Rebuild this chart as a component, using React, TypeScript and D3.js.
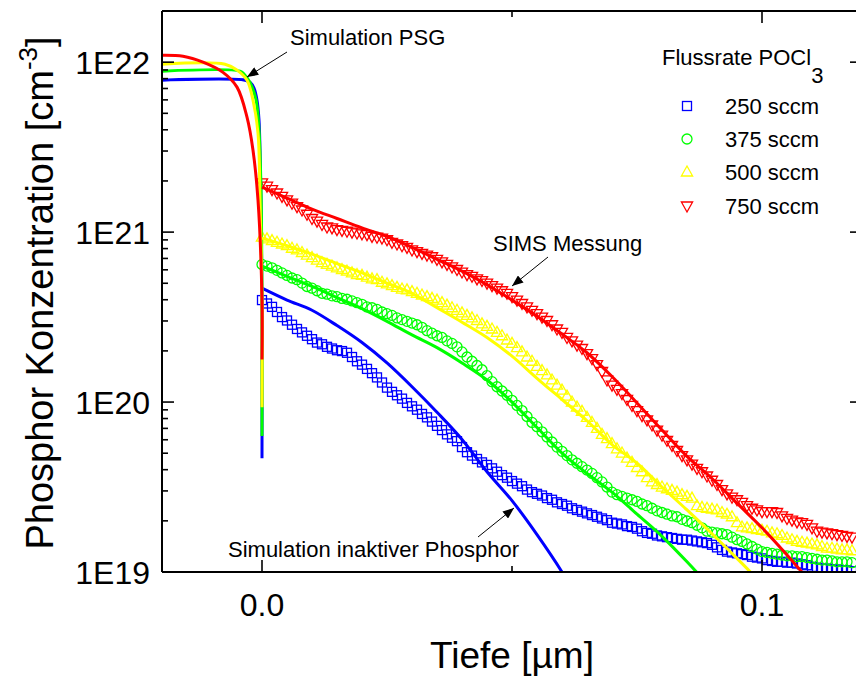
import React from 'react';
import * as d3 from 'd3';

const W = 856;
const H = 678;
const PLOT = { left: 162, top: 11, right: 862, bottom: 572 };

const depthDomain: [number, number] = [-0.02, 0.12];
const concDomain: [number, number] = [1e19, 2e22];

const xMajorTicks = [0.0, 0.1];
const xMajorLabels = ['0.0', '0.1'];
const xMinorTicks = [0.05];
const yMajorTicks = [1e19, 1e20, 1e21, 1e22];
const yMajorLabels = ['1E19', '1E20', '1E21', '1E22'];

const seriesNames = ['250 sccm', '375 sccm', '500 sccm', '750 sccm'];
const seriesColors = ['#0000ff', '#00ff00', '#ffff00', '#ff0000'];
const seriesMarkers = ['square', 'circle', 'triangleUp', 'triangleDown'];

// SIMS measurement: depth grid start/step (µm), values are log10(concentration / cm^-3)
const simsDepthStart = 0.0;
const simsDepthStep = 0.001;
const sims250 = [
  20.60, 20.58, 20.56, 20.53, 20.50, 20.48, 20.455, 20.43, 20.41, 20.39,
  20.37, 20.35, 20.34, 20.325, 20.315, 20.305, 20.30, 20.29, 20.265, 20.24,
  20.22, 20.195, 20.17, 20.145, 20.115, 20.085, 20.06, 20.04, 20.02, 19.995,
  19.975, 19.955, 19.93, 19.91, 19.885, 19.86, 19.835, 19.81, 19.79, 19.77,
  19.735, 19.705, 19.685, 19.665, 19.645, 19.63, 19.61, 19.59, 19.57, 19.555,
  19.535, 19.52, 19.505, 19.485, 19.47, 19.46, 19.45, 19.435, 19.425, 19.41,
  19.40, 19.39, 19.375, 19.365, 19.355, 19.345, 19.335, 19.325, 19.315, 19.305,
  19.29, 19.285, 19.28, 19.27, 19.265, 19.255, 19.24, 19.23, 19.225, 19.215,
  19.21, 19.205, 19.20, 19.195, 19.19, 19.19, 19.185, 19.18, 19.175, 19.17,
  19.16, 19.145, 19.13, 19.12, 19.115, 19.11, 19.105, 19.10, 19.09, 19.085,
  19.08, 19.07, 19.065, 19.06, 19.06, 19.055, 19.055, 19.05, 19.045, 19.04,
  19.03, 19.025, 19.02, 19.02, 19.015, 19.015, 19.01, 19.01, 19.005,
];
const sims375 = [
  20.81, 20.80, 20.79, 20.775, 20.76, 20.745, 20.73, 20.72, 20.70, 20.68,
  20.67, 20.655, 20.64, 20.635, 20.625, 20.62, 20.61, 20.605, 20.595, 20.585,
  20.575, 20.56, 20.555, 20.545, 20.53, 20.52, 20.51, 20.495, 20.485, 20.475,
  20.465, 20.455, 20.44, 20.42, 20.405, 20.39, 20.38, 20.36, 20.345, 20.325,
  20.295, 20.265, 20.24, 20.215, 20.19, 20.155, 20.12, 20.09, 20.065, 20.04,
  20.01, 19.98, 19.95, 19.915, 19.88, 19.855, 19.825, 19.795, 19.765, 19.735,
  19.71, 19.685, 19.66, 19.64, 19.62, 19.60, 19.58, 19.555, 19.53, 19.50,
  19.47, 19.455, 19.445, 19.435, 19.425, 19.415, 19.40, 19.39, 19.375, 19.36,
  19.35, 19.34, 19.33, 19.325, 19.31, 19.30, 19.29, 19.275, 19.26, 19.24,
  19.235, 19.23, 19.225, 19.22, 19.205, 19.19, 19.18, 19.165, 19.15, 19.135,
  19.12, 19.115, 19.11, 19.105, 19.10, 19.095, 19.095, 19.09, 19.09, 19.085,
  19.08, 19.075, 19.07, 19.07, 19.065, 19.06, 19.06, 19.06, 19.055,
];
const sims500 = [
  20.97, 20.96, 20.95, 20.94, 20.93, 20.92, 20.905, 20.895, 20.88, 20.865,
  20.85, 20.835, 20.82, 20.81, 20.80, 20.79, 20.78, 20.77, 20.76, 20.75,
  20.745, 20.735, 20.725, 20.72, 20.705, 20.695, 20.685, 20.675, 20.665, 20.66,
  20.65, 20.64, 20.63, 20.62, 20.61, 20.60, 20.585, 20.57, 20.555, 20.54,
  20.525, 20.51, 20.495, 20.48, 20.46, 20.445, 20.43, 20.41, 20.39, 20.365,
  20.345, 20.32, 20.295, 20.265, 20.24, 20.21, 20.185, 20.16, 20.13, 20.10,
  20.07, 20.035, 20.00, 19.97, 19.945, 19.91, 19.88, 19.845, 19.81, 19.785,
  19.755, 19.725, 19.70, 19.67, 19.645, 19.615, 19.59, 19.555, 19.53, 19.515,
  19.50, 19.49, 19.48, 19.47, 19.455, 19.445, 19.435, 19.39, 19.38, 19.375,
  19.37, 19.365, 19.35, 19.34, 19.325, 19.29, 19.265, 19.26, 19.255, 19.25,
  19.245, 19.24, 19.23, 19.225, 19.215, 19.20, 19.19, 19.18, 19.175, 19.17,
  19.165, 19.16, 19.15, 19.14, 19.14, 19.135, 19.13, 19.13, 19.125,
];
const sims750 = [
  21.29, 21.27, 21.25, 21.23, 21.21, 21.19, 21.17, 21.15, 21.13, 21.105,
  21.08, 21.065, 21.045, 21.03, 21.025, 21.015, 21.01, 21.005, 21.00, 20.995,
  20.99, 20.985, 20.975, 20.97, 20.965, 20.955, 20.94, 20.93, 20.92, 20.91,
  20.895, 20.885, 20.875, 20.865, 20.855, 20.84, 20.825, 20.81, 20.795, 20.78,
  20.765, 20.75, 20.74, 20.725, 20.715, 20.70, 20.685, 20.67, 20.655, 20.64,
  20.62, 20.60, 20.58, 20.56, 20.54, 20.52, 20.50, 20.48, 20.455, 20.43,
  20.41, 20.38, 20.36, 20.335, 20.315, 20.285, 20.255, 20.22, 20.18, 20.13,
  20.10, 20.075, 20.05, 20.015, 19.98, 19.95, 19.92, 19.895, 19.865, 19.835,
  19.805, 19.775, 19.745, 19.715, 19.685, 19.66, 19.635, 19.61, 19.59, 19.565,
  19.54, 19.515, 19.485, 19.46, 19.44, 19.425, 19.41, 19.39, 19.375, 19.365,
  19.355, 19.355, 19.355, 19.35, 19.33, 19.315, 19.305, 19.295, 19.29, 19.28,
  19.26, 19.24, 19.235, 19.23, 19.225, 19.22, 19.215, 19.21, 19.205,
];

// Simulation in PSG (depth < 0), log10 concentration
const psgDepth250 = [-0.02, -0.0034, -0.0024, -0.0016, -0.001, -0.0006, -0.0004, -0.0002, 0, 0];
const psgLog250 = [21.894, 21.894, 21.882, 21.847, 21.776, 21.659, 21.482, 21.188, 20.6, 19.67];
const psgDepth375 = [-0.02, -0.0044, -0.0036, -0.0024, -0.0012, -0.0006, -0.0002, 0, 0];
const psgLog375 = [21.947, 21.947, 21.93, 21.88, 21.78, 21.6, 21.25, 20.6, 19.8];
const psgDepth500 = [-0.02, -0.0074, -0.005, -0.003, -0.0018, -0.0008, -0.0004, 0, 0];
const psgLog500 = [21.988, 21.988, 21.953, 21.894, 21.776, 21.582, 21.188, 20.6, 19.97];
const psgDepth750 = [-0.02, -0.0158, -0.0118, -0.0078, -0.005, -0.003, -0.0018, -0.0008, 0, 0];
const psgLog750 = [22.041, 22.035, 22.0, 21.94, 21.853, 21.676, 21.482, 21.188, 20.6, 20.25];

// Simulation in silicon (depth >= 0), log10 concentration
const siDepths = [0, 0.005, 0.01, 0.015, 0.02, 0.025, 0.03, 0.035, 0.04, 0.045, 0.05, 0.055,
  0.06, 0.065, 0.07, 0.075, 0.08, 0.085, 0.09, 0.095, 0.1, 0.105, 0.11];
const siLog250 = [20.67, 20.60, 20.54, 20.45, 20.35, 20.23, 20.09, 19.94, 19.78, 19.59, 19.42, 19.22, 19.00, 18.75];
const siLog375 = [20.80, 20.74, 20.68, 20.615, 20.55, 20.475, 20.395, 20.32, 20.23, 20.13, 20.00, 19.85,
  19.70, 19.58, 19.47, 19.34, 19.21, 19.06, 18.90];
const siLog500 = [20.965, 20.92, 20.87, 20.815, 20.76, 20.70, 20.64, 20.555, 20.47, 20.38, 20.27, 20.14,
  20.015, 19.89, 19.75, 19.64, 19.50, 19.365, 19.225, 19.08, 18.93];
const siLog750 = [21.265, 21.20, 21.135, 21.08, 21.025, 20.975, 20.91, 20.84, 20.77, 20.69, 20.60, 20.505,
  20.40, 20.29, 20.15, 19.995, 19.835, 19.68, 19.55, 19.405, 19.26, 19.10, 18.93];

const simsAll = [sims250, sims375, sims500, sims750];
const psgDepthAll = [psgDepth250, psgDepth375, psgDepth500, psgDepth750];
const psgLogAll = [psgLog250, psgLog375, psgLog500, psgLog750];
const siLogAll = [siLog250, siLog375, siLog500, siLog750];

const FONT = 'Liberation Sans, Arial, sans-serif';

function Marker({ kind, x, y, color }: { kind: string; x: number; y: number; color: string }) {
  const common = { fill: 'none', stroke: color, strokeWidth: 1.3 };
  if (kind === 'square') return <rect x={x - 4.5} y={y - 4.5} width={9} height={9} {...common} />;
  if (kind === 'circle') return <circle cx={x} cy={y} r={5} {...common} />;
  if (kind === 'triangleUp')
    return <path d={`M${x},${y - 6}L${x + 5.6},${y + 4}L${x - 5.6},${y + 4}Z`} {...common} />;
  return <path d={`M${x},${y + 6}L${x + 5.6},${y - 4}L${x - 5.6},${y - 4}Z`} {...common} />;
}

export default function App() {
  const x = d3.scaleLinear().domain(depthDomain).range([PLOT.left, PLOT.right]);
  const y = d3.scaleLog().domain(concDomain).range([PLOT.bottom, PLOT.top]);
  const yAllTicks = y.ticks();
  const yMinor = yAllTicks.filter((t) => !yMajorTicks.some((m) => Math.abs(m - t) / t < 1e-6));

  const psgLine = d3
    .line<[number, number]>()
    .x((d) => x(d[0]))
    .y((d) => y(Math.pow(10, d[1])))
    .curve(d3.curveCatmullRom.alpha(0.5));
  const siLine = d3
    .line<[number, number]>()
    .x((d) => x(d[0]))
    .y((d) => y(Math.pow(10, d[1])))
    .curve(d3.curveMonotoneX);

  const legendX = 687;
  const legendRows = [106, 139, 172, 206];

  const arrow = (x1: number, y1: number, x2: number, y2: number) => (
    <line x1={x1} y1={y1} x2={x2} y2={y2} stroke="#000" strokeWidth={1} markerEnd="url(#arrowHead)" />
  );

  return (
    <svg
      width={W}
      height={H}
      style={{ position: 'absolute', left: 0, top: 0, background: '#fff' }}
      fontFamily={FONT}
    >
      <defs>
        <clipPath id="plotClip">
          <rect x={PLOT.left} y={PLOT.top} width={PLOT.right - PLOT.left} height={PLOT.bottom - PLOT.top} />
        </clipPath>
        <marker id="arrowHead" viewBox="0 0 10 8" refX="10" refY="4" markerWidth="12" markerHeight="9"
          markerUnits="userSpaceOnUse" orient="auto">
          <path d="M0,0L10,4L0,8Z" fill="#000" />
        </marker>
      </defs>
      <rect x={0} y={0} width={W} height={H} fill="#fff" />

      <g clipPath="url(#plotClip)">
        {/* SIMS markers */}
        {simsAll.map((vals, si) => (
          <g key={'s' + si}>
            {vals.map((v, i) => (
              <Marker key={i} kind={seriesMarkers[si]} x={x(simsDepthStart + i * simsDepthStep)}
                y={y(Math.pow(10, v))} color={seriesColors[si]} />
            ))}
          </g>
        ))}
        {/* Simulation lines */}
        {psgLogAll.map((vals, si) => {
          const psgPts = vals.map((v, i) => [psgDepthAll[si][i], v] as [number, number]);
          const siPts = siLogAll[si].map((v, i) => [siDepths[i], v] as [number, number]);
          return (
            <g key={'l' + si} fill="none" stroke={seriesColors[si]} strokeWidth={3}>
              <path d={psgLine(psgPts) || ''} />
              <path d={siLine(siPts) || ''} />
            </g>
          );
        })}
      </g>

      {/* Axes frame */}
      <g stroke="#000" strokeWidth={2} fill="none">
        <line x1={PLOT.left} y1={PLOT.top} x2={PLOT.right} y2={PLOT.top} />
        <line x1={PLOT.left} y1={PLOT.bottom} x2={PLOT.right} y2={PLOT.bottom} />
        <line x1={PLOT.left} y1={PLOT.top} x2={PLOT.left} y2={PLOT.bottom} />
        <line x1={PLOT.right} y1={PLOT.top} x2={PLOT.right} y2={PLOT.bottom} />
      </g>
      <g stroke="#000" strokeWidth={1.6}>
        {yMajorTicks.map((t) => (
          <g key={'ym' + t}>
            <line x1={PLOT.left} x2={PLOT.left + 12} y1={y(t)} y2={y(t)} />
            <line x1={PLOT.right} x2={PLOT.right - 12} y1={y(t)} y2={y(t)} />
          </g>
        ))}
        {yMinor.map((t) => (
          <g key={'yn' + t}>
            <line x1={PLOT.left} x2={PLOT.left + 6} y1={y(t)} y2={y(t)} />
            <line x1={PLOT.right} x2={PLOT.right - 6} y1={y(t)} y2={y(t)} />
          </g>
        ))}
        {xMajorTicks.map((t) => (
          <g key={'xm' + t}>
            <line x1={x(t)} x2={x(t)} y1={PLOT.bottom} y2={PLOT.bottom - 12} />
            <line x1={x(t)} x2={x(t)} y1={PLOT.top} y2={PLOT.top + 12} />
          </g>
        ))}
        {xMinorTicks.map((t) => (
          <g key={'xn' + t}>
            <line x1={x(t)} x2={x(t)} y1={PLOT.bottom} y2={PLOT.bottom - 6} />
            <line x1={x(t)} x2={x(t)} y1={PLOT.top} y2={PLOT.top + 6} />
          </g>
        ))}
      </g>

      {/* Tick labels */}
      {yMajorTicks.map((t, i) => (
        <text key={'yl' + t} x={150} y={y(t)} dy="0.36em" textAnchor="end" fontSize={32} fill="#000">
          {yMajorLabels[i]}
        </text>
      ))}
      {xMajorTicks.map((t, i) => (
        <text key={'xl' + t} x={x(t)} y={616} textAnchor="middle" fontSize={32} fill="#000">
          {xMajorLabels[i]}
        </text>
      ))}

      {/* Axis titles */}
      <text x={512} y={668} textAnchor="middle" fontSize={37} fill="#000">
        Tiefe [µm]
      </text>
      <text transform="translate(53,293) rotate(-90)" textAnchor="middle" fontSize={38} fill="#000">
        Phosphor Konzentration [cm
        <tspan fontSize={26} dy={-16}>-3</tspan>
        <tspan dy={16}>]</tspan>
      </text>

      {/* Legend */}
      <text x={662} y={65} fontSize={22} fill="#000">
        Flussrate POCl
        <tspan dy={18}>3</tspan>
      </text>
      {seriesNames.map((name, i) => (
        <g key={'lg' + i}>
          <Marker kind={seriesMarkers[i]} x={legendX} y={legendRows[i]} color={seriesColors[i]} />
          <text x={725} y={legendRows[i] + 8} fontSize={22} fill="#000">
            {name}
          </text>
        </g>
      ))}

      {/* Annotations */}
      <text x={290} y={45} fontSize={22} fill="#000">Simulation PSG</text>
      {arrow(287, 52, 247, 77)}
      <text x={493} y={251} fontSize={22} fill="#000">SIMS Messung</text>
      {arrow(548, 257, 512, 286)}
      <text x={228} y={557} fontSize={22} fill="#000">Simulation inaktiver Phosphor</text>
      {arrow(478, 537, 514, 508)}
    </svg>
  );
}
